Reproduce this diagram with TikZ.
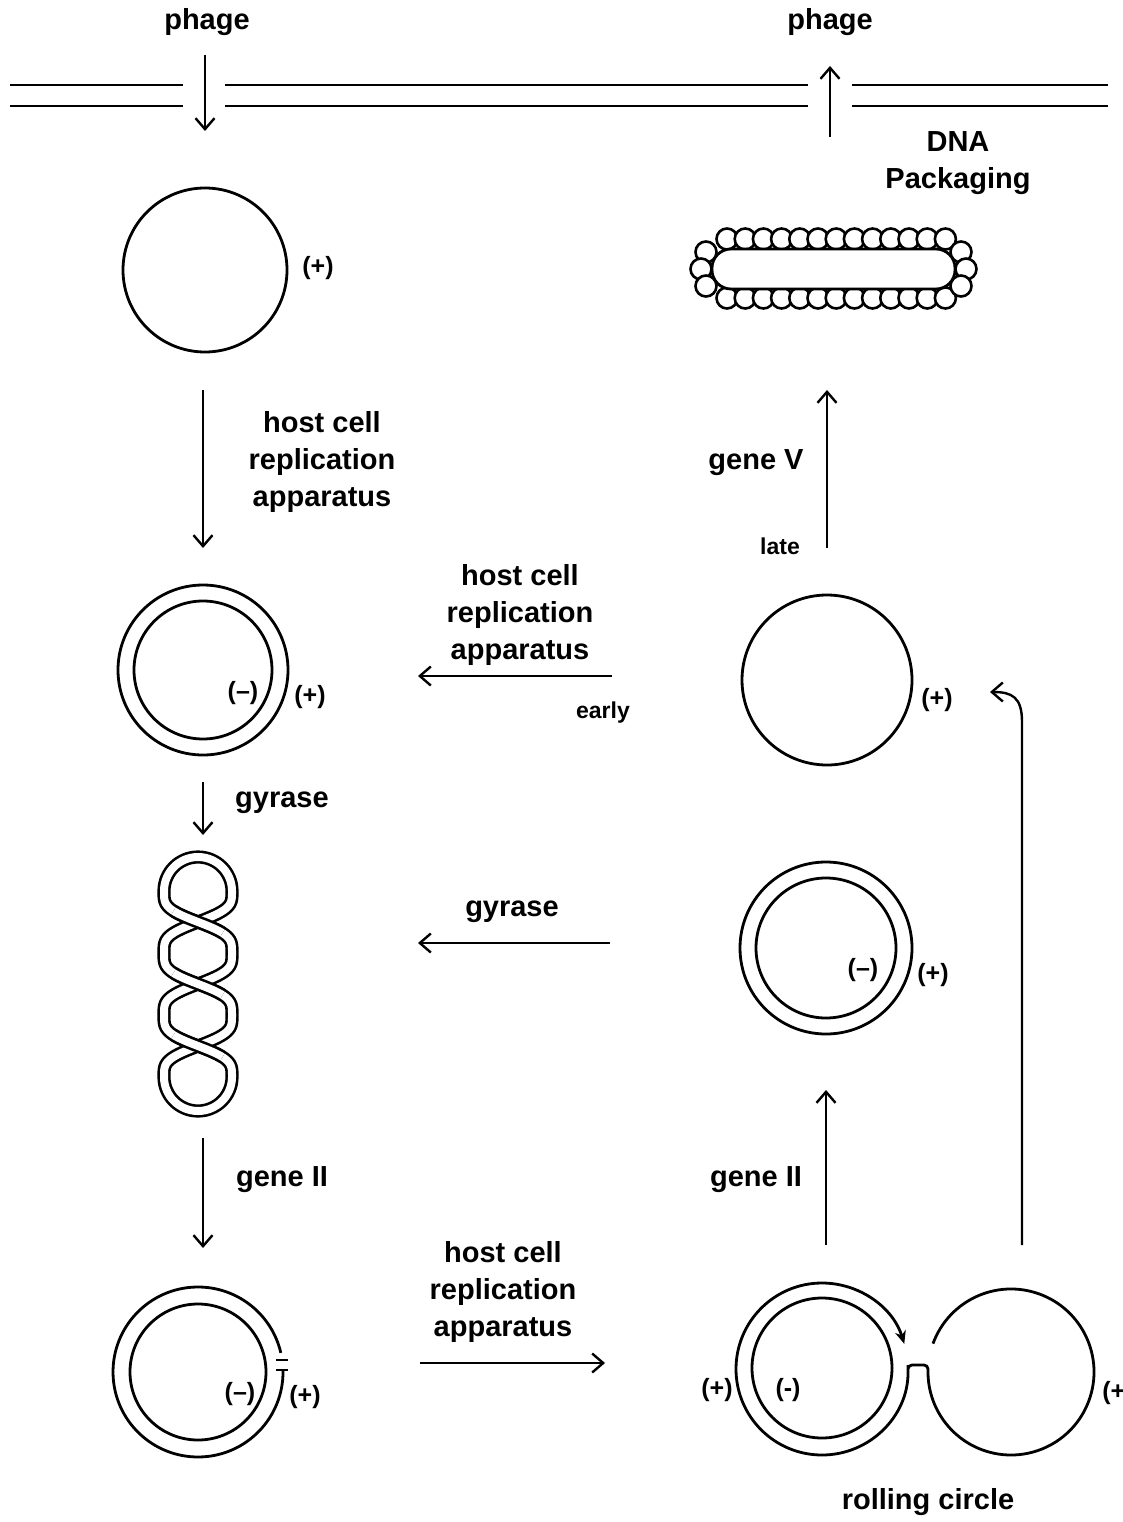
\documentclass[tikz,border=0pt]{standalone}
\usepackage{fontspec}
\setmainfont{Liberation Sans}
\usetikzlibrary{arrows.meta}
\begin{document}
\begin{tikzpicture}[x=1pt,y=-1pt,
  lbl/.style={font=\bfseries\fontsize{29}{37}\selectfont, align=center, inner sep=0pt},
  tiny/.style={font=\bfseries\fontsize{23}{27}\selectfont, inner sep=0pt},
  sense/.style={font=\bfseries\fontsize{25}{30}\selectfont, inner sep=0pt},
  flow/.style={line width=2.4pt, -{Straight Barb[length=11pt,width=19pt]}},
  ring/.style={line width=2.8pt},
  band/.style={line width=2.6pt, double=white, double distance=8pt, line join=round},
  membrane/.style={line width=2pt},
  bead/.style={line width=2.6pt, fill=white},
  ]
\useasboundingbox (0,0) rectangle (1122,1522);

% ---------- cell membrane ----------
\draw[membrane] (10,85) -- (183,85) (10,106) -- (183,106)
                (225,85) -- (808,85) (225,106) -- (808,106)
                (852,85) -- (1108,85) (852,106) -- (1108,106);

\node[lbl] (phIn)  at (207,22) {phage};
\node[lbl] (phOut) at (830,22) {phage};
\coordinate (inA) at (205,55);  \coordinate (inB) at (205,131);
\coordinate (outA) at (830,137); \coordinate (outB) at (830,66);
\draw[flow] (inA) -- (inB);
\draw[flow] (outA) -- (outB);
\node[lbl] (pack) at (958,163) {DNA\\Packaging};

% ---------- left column ----------
\coordinate (c1) at (205,270);
\draw[ring] (c1) circle[radius=82];
\node[sense] (c1p) at (318,268) {(+)};

\coordinate (a1s) at (203,390); \coordinate (a1e) at (203,548);
\draw[flow] (a1s) -- (a1e);
\node[lbl] (t1) at (322,462) {host cell\\replication\\apparatus};

\coordinate (c2) at (203,670);
\draw[ring] (c2) circle[radius=85] (c2) circle[radius=69];
\node[sense] (c2m) at (243,693) {(–)};
\node[sense] (c2p) at (310,697) {(+)};

\coordinate (a2s) at (203,782); \coordinate (a2e) at (203,835);
\draw[flow] (a2s) -- (a2e);
\node[lbl] (t2) at (282,803) {gyrase};

% supercoiled form: two strands twisted round each other
% strand offset profile h(c) = 1.5c - 0.5c^3 with c = cos of the phase
\draw[band] (164,891) arc[start angle=180, end angle=360, radius=34]
  -- plot[domain=892:1076, samples=120, variable=\t]
     ({198+34*(1.5*cos((\t-891)*2.90323)-0.5*(cos((\t-891)*2.90323))^3)}, \t)
  -- (164,1077) arc[start angle=180, end angle=0, radius=34]
  -- plot[domain=1076:892, samples=120, variable=\t]
     ({198-34*(1.5*cos((\t-891)*2.90323)-0.5*(cos((\t-891)*2.90323))^3)}, \t)
  -- cycle;
% strands passing over at the crossings
\draw[band] plot[domain=911:933, samples=24, variable=\t]
  ({198-34*(1.5*cos((\t-891)*2.90323)-0.5*(cos((\t-891)*2.90323))^3)}, \t);
\draw[band] plot[domain=973:995, samples=24, variable=\t]
  ({198+34*(1.5*cos((\t-891)*2.90323)-0.5*(cos((\t-891)*2.90323))^3)}, \t);
\draw[band] plot[domain=1035:1057, samples=24, variable=\t]
  ({198-34*(1.5*cos((\t-891)*2.90323)-0.5*(cos((\t-891)*2.90323))^3)}, \t);

\coordinate (a3s) at (203,1138); \coordinate (a3e) at (203,1248);
\draw[flow] (a3s) -- (a3e);
\node[lbl] (t3) at (282,1180) {gene II};

% nicked double-stranded circle
\coordinate (c4) at (198,1372);
\draw[ring] (c4) circle[radius=68];
\draw[ring] (283.0,1370.5) arc[start angle=-1, end angle=347, radius=85];
\draw[line width=2.4pt] (276,1360) -- (288,1360) (276,1370) -- (288,1370);
\node[sense] (c4m) at (240,1394) {(–)};
\node[sense] (c4p) at (305,1397) {(+)};

\coordinate (a4s) at (420,1363); \coordinate (a4e) at (605,1363);
\draw[flow] (a4s) -- (a4e);
\node[lbl] (t4) at (503,1292) {host cell\\replication\\apparatus};

% ---------- rolling circle ----------
\coordinate (c5) at (822,1368);
\draw[ring] (c5) circle[radius=70];
\draw[ring, -{Stealth[length=13pt,width=11pt]}] (933,1343.6)
  arc[start angle=200, end angle=540, radius=83]
  [rounded corners=4pt] -- (928,1365) -- (908,1365) -- (908,1369) [sharp corners]
  arc[start angle=0, end angle=343, radius=86];
\node[sense] (c5p) at (717,1390) {(+)};
\node[sense] (c5m) at (788,1390) {(-)};
\node[sense] (c6p) at (1118,1393) {(+)};
\node[lbl] (t5) at (928,1502) {rolling circle};

% ---------- right column ----------
\coordinate (a5s) at (826,1245); \coordinate (a5e) at (826,1090);
\draw[flow] (a5s) -- (a5e);
\node[lbl] (t6) at (756,1180) {gene II};

\coordinate (a6s) at (1022,1245); \coordinate (a6e) at (990,692);
\draw[flow] (a6s) -- (1022,722) .. controls (1022,697) and (1012,692) .. (a6e);

\coordinate (c7) at (826,948);
\draw[ring] (c7) circle[radius=86] (c7) circle[radius=70];
\node[sense] (c7m) at (863,970) {(–)};
\node[sense] (c7p) at (933,975) {(+)};

\coordinate (a7s) at (610,943); \coordinate (a7e) at (418,943);
\draw[flow] (a7s) -- (a7e);
\node[lbl] (t7) at (512,912) {gyrase};

\coordinate (c8) at (827,680);
\draw[ring] (c8) circle[radius=85];
\node[sense] (c8p) at (937,700) {(+)};

\coordinate (a8s) at (612,676); \coordinate (a8e) at (418,676);
\draw[flow] (a8s) -- (a8e);
\node[lbl] (t8) at (520,615) {host cell\\replication\\apparatus};
\node[tiny] (early) at (603,713) {early};

\coordinate (a9s) at (827,548); \coordinate (a9e) at (827,390);
\draw[flow] (a9s) -- (a9e);
\node[lbl] (t9) at (756,463) {gene V};
\node[tiny] (late) at (780,546) {late};

% ---------- packaged DNA coated with gene V protein ----------
\foreach \i in {0,...,12} {
  \draw[bead] (727+18.2*\i,239) circle[radius=10.5];
  \draw[bead] (727+18.2*\i,298) circle[radius=10.5];
}
\foreach \p in {(706,252),(701,269),(706,286),(961,252),(966,269),(961,286)}
  \draw[bead] \p circle[radius=10.5];
\draw[line width=2.8pt, fill=white, rounded corners=19pt] (712,249) rectangle (955,289);
\end{tikzpicture}
\end{document}
